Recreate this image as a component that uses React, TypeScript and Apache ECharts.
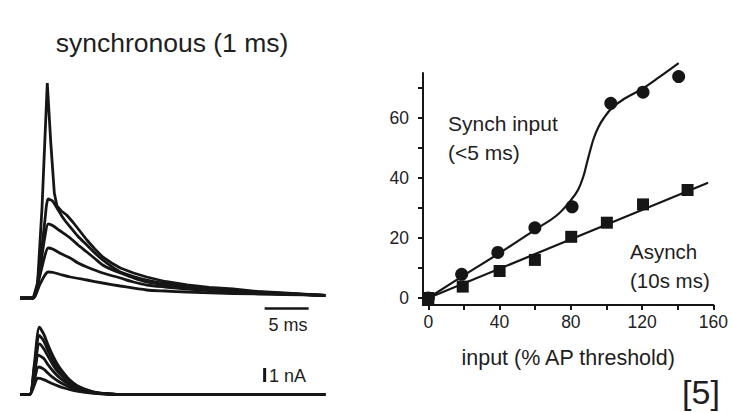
import React, { useEffect, useRef } from "react";
import * as echarts from "echarts";

const FONT = '"Liberation Sans", Arial, Helvetica, sans-serif';
const INK = "#161616";

// ---- Left panel: voltage traces (ms, mV) ----
const traceSpike = [[0,0],[1.5,0],[2.0,3],[2.5,18],[3.1,43],[3.5,31],[3.9,21],[4.2,18.4],[4.7,17.4],[5.3,16.6],[6.0,15.2],[6.8,13.4],[7.6,11.6],[8.5,9.8],[9.4,8.2],[10.4,7],[11.4,6],[12.9,5],[14.4,4.2],[16.5,3.3],[19,2.6],[21.5,2.1],[24.2,1.8],[27,1.3],[30,1.0],[34.7,0.5]];
const trace2 = [[0,0],[1.5,0],[2.2,6],[2.8,15],[3.2,19.8],[3.7,19.4],[4.2,18],[4.9,16],[5.7,14.2],[6.6,12.3],[7.6,10.6],[8.5,9],[9.4,7.6],[10.4,6.3],[11.4,5.2],[12.9,4.3],[14.4,3.6],[16.5,2.9],[19,2.4],[21.5,1.9],[24.2,1.6],[27,1.2],[30,0.9],[34.7,0.5]];
const trace3 = [[0,0],[1.5,0],[2.2,5],[2.8,12],[3.2,14.8],[3.7,14.5],[4.5,13.5],[5.7,12],[6.6,10.6],[7.6,9.2],[8.5,7.9],[9.4,6.6],[10.4,5.7],[11.4,5],[12.9,4],[14.4,3.2],[16.5,2.6],[19,2.2],[21.5,1.7],[24.2,1.4],[27,1.1],[30,0.9],[34.7,0.5]];
const trace4 = [[0,0],[1.5,0],[2.2,4],[2.8,8.3],[3.2,10],[3.7,9.8],[4.5,9],[5.7,8],[6.6,7],[7.6,6.2],[9.4,5],[11.4,4],[12.9,3.2],[14.4,2.6],[16.5,2.2],[19,1.8],[21.5,1.5],[24.2,1.2],[27,1.0],[30,0.8],[34.7,0.5]];
const trace5 = [[0,0],[1.5,0],[2.2,2.5],[2.8,4.5],[3.2,5.2],[3.8,5.1],[4.6,4.7],[5.7,4.2],[7.6,3.6],[9.4,3],[11.4,2.4],[14.4,1.6],[16.5,1.4],[19,1.2],[24.2,0.9],[30,0.7],[34.7,0.5]];
const topTraces = [traceSpike, trace2, trace3, trace4, trace5];
const timeBar = [[27.8, -2.1], [32.8, -2.1]]; // 5 ms

// ---- Left panel: current traces (ms, nA) ----
const cur1 = [[0,0],[1.1,0],[1.6,2],[2.2,4.8],[2.7,4.3],[3.2,3.5],[3.7,2.8],[4.3,2.1],[5.0,1.5],[5.7,1.0],[6.5,0.62],[7.4,0.36],[8.2,0.2],[9.1,0.08],[11,0],[34.7,0]];
const cur2 = [[0,0],[1.1,0],[1.6,1.8],[2.2,4.2],[2.7,3.8],[3.2,3.1],[3.7,2.5],[4.3,1.85],[5.0,1.35],[5.7,0.9],[6.5,0.58],[7.4,0.33],[8.2,0.18],[9.1,0.08],[11,0],[34.7,0]];
const cur3 = [[0,0],[1.1,0],[1.6,1.5],[2.2,3.6],[2.7,3.25],[3.2,2.7],[3.7,2.15],[4.3,1.6],[5.0,1.18],[5.7,0.8],[6.5,0.52],[7.4,0.3],[8.2,0.16],[9.1,0.07],[11,0],[34.7,0]];
const cur4 = [[0,0],[1.1,0],[1.6,1.2],[2.1,2.8],[2.7,2.55],[3.2,2.1],[3.7,1.7],[4.3,1.3],[5.0,0.95],[5.7,0.65],[6.5,0.43],[7.4,0.25],[8.2,0.14],[9.1,0.06],[11,0],[34.7,0]];
const cur5 = [[0,0],[1.1,0],[1.6,0.9],[2.1,1.95],[2.7,1.8],[3.2,1.5],[3.7,1.22],[4.3,0.95],[5.0,0.7],[5.7,0.5],[6.5,0.33],[7.4,0.2],[8.2,0.11],[9.1,0.05],[11,0],[34.7,0]];
const cur6 = [[0,0],[1.1,0],[1.6,0.6],[2.0,1.15],[2.7,1.05],[3.2,0.9],[3.7,0.75],[4.3,0.6],[5.0,0.45],[5.7,0.33],[6.5,0.22],[7.4,0.14],[8.2,0.08],[9.1,0.04],[11,0],[34.7,0]];
const bottomTraces = [cur1, cur2, cur3, cur4, cur5, cur6];
const currentBar = [[27.8, 0.88], [27.8, 1.88]]; // 1 nA

// ---- Right panel: input-output ----
const synchPoints = [[0,0],[18.7,7.9],[39,15.2],[59.8,23.4],[80.7,30.4],[102.4,64.9],[120.5,68.6],[140.5,73.8]];
const asynchPoints = [[0,0],[19.3,3.8],[40,9],[59.8,12.7],[80.2,20.4],[100.2,25.1],[120.5,31.2],[145.5,36]];
const synchFit = [[0,0],[20,7.6],[40,15],[60,22.8],[72,27.5],[80,32.6],[84,36],[87,40.5],[89,45],[91,49.5],[93,53.5],[95.5,57],[98.5,60],[103,63.3],[110,66.4],[120,69.7],[130,73.8],[140.5,78.3]];
const asynchFit = [[0,0],[157,38.4]];
const xLabelValues = [0, 40, 80, 120, 160];
const xTickValues = [0, 20, 40, 60, 80, 100, 120, 140, 160];
const yLabelValues = [0, 20, 40, 60];
const yTickValues = [0, 10, 20, 30, 40, 50, 60, 70];

const lineStyle = { color: INK, width: 2.8 };

function buildOption(): any {
  const series: any[] = [];
  topTraces.forEach((d, i) => {
    series.push({
      type: "line", xAxisIndex: 0, yAxisIndex: 0, data: d, showSymbol: false, silent: true,
      smooth: i === 0 ? false : 0.25, lineStyle,
    });
  });
  series.push({ type: "line", xAxisIndex: 0, yAxisIndex: 0, data: timeBar, showSymbol: false, silent: true, lineStyle: { color: INK, width: 2.6 } });
  bottomTraces.forEach((d) => {
    series.push({
      type: "line", xAxisIndex: 1, yAxisIndex: 1, data: d, showSymbol: false, silent: true,
      smooth: 0.25, lineStyle,
    });
  });
  series.push({ type: "line", xAxisIndex: 1, yAxisIndex: 1, data: currentBar, showSymbol: false, silent: true, lineStyle: { color: INK, width: 3 } });

  series.push({ type: "line", xAxisIndex: 2, yAxisIndex: 2, data: synchFit, showSymbol: false, silent: true, clip: false, smooth: 0.4, lineStyle: { color: INK, width: 2.2 } });
  series.push({ type: "line", xAxisIndex: 2, yAxisIndex: 2, data: asynchFit, showSymbol: false, silent: true, clip: false, lineStyle: { color: INK, width: 2.2 } });
  series.push({ type: "scatter", xAxisIndex: 2, yAxisIndex: 2, data: synchPoints, clip: false, symbol: "circle", symbolSize: 13, itemStyle: { color: INK, opacity: 1 } });
  series.push({ type: "scatter", xAxisIndex: 2, yAxisIndex: 2, data: asynchPoints, clip: false, symbol: "rect", symbolSize: 12, itemStyle: { color: INK, opacity: 1 } });

  const hidden = { show: false };
  const text = (t: string, x: number, y: number, size: number, align = "left") => ({
    type: "text", x, y, silent: true,
    style: { text: t, fill: "#1e1e1e", font: `normal ${size}px ${FONT}`, textAlign: align, textVerticalAlign: "middle" },
  });

  return {
    animation: false,
    backgroundColor: "#ffffff",
    grid: [
      { left: 20, top: 78, width: 308, height: 240 },
      { left: 20, top: 321.5, width: 308, height: 79.8 },
      { left: 423, top: 73, width: 293, height: 232 },
    ],
    xAxis: [
      { gridIndex: 0, type: "value", min: 0, max: 35, axisLine: hidden, axisTick: hidden, axisLabel: hidden, splitLine: hidden },
      { gridIndex: 1, type: "value", min: 0, max: 35, axisLine: hidden, axisTick: hidden, axisLabel: hidden, splitLine: hidden },
      {
        gridIndex: 2, type: "value", min: -3, max: 160,
        axisLine: { show: true, onZero: false, lineStyle: { color: INK, width: 2 } },
        axisTick: { show: true, length: 5, customValues: xTickValues, lineStyle: { color: INK, width: 2 } },
        axisLabel: { customValues: xLabelValues, fontSize: 17.5, fontFamily: FONT, color: "#222", margin: 8 },
        splitLine: hidden,
        name: "input (% AP threshold)", nameLocation: "middle", nameGap: 42,
        nameTextStyle: { fontSize: 21.5, fontFamily: FONT, color: "#1e1e1e" },
      },
    ],
    yAxis: [
      { gridIndex: 0, type: "value", min: -4, max: 44, axisLine: hidden, axisTick: hidden, axisLabel: hidden, splitLine: hidden },
      { gridIndex: 1, type: "value", min: -0.5, max: 5.2, axisLine: hidden, axisTick: hidden, axisLabel: hidden, splitLine: hidden },
      {
        gridIndex: 2, type: "value", min: -7 / 3, max: 75,
        axisLine: { show: true, onZero: false, lineStyle: { color: INK, width: 2 } },
        axisTick: { show: true, length: 5, customValues: yTickValues, lineStyle: { color: INK, width: 2 } },
        axisLabel: { customValues: yLabelValues, fontSize: 17.5, fontFamily: FONT, color: "#222", margin: 14 },
        splitLine: hidden,
      },
    ],
    graphic: [
      text("synchronous (1 ms)", 172, 43, 26.5, "center"),
      text("5 ms", 288, 325, 18, "center"),
      text("1 nA", 269, 376, 18, "left"),
      text("Synch input", 448, 123, 21, "left"),
      text("(<5 ms)", 448, 152, 21, "left"),
      text("Asynch", 630, 251, 20.5, "left"),
      text("(10s ms)", 630, 280, 20.5, "left"),
      text("[5]", 701, 392, 34, "center"),
    ],
    series,
  };
}

export default function App() {
  const ref = useRef<HTMLDivElement>(null);
  useEffect(() => {
    const chart = echarts.init(ref.current!, null, { renderer: "svg" });
    chart.setOption(buildOption());
    return () => chart.dispose();
  }, []);
  return (
    <div
      ref={ref}
      style={{ position: "fixed", left: 0, top: 0, width: 731, height: 413, background: "#fff" }}
    />
  );
}
